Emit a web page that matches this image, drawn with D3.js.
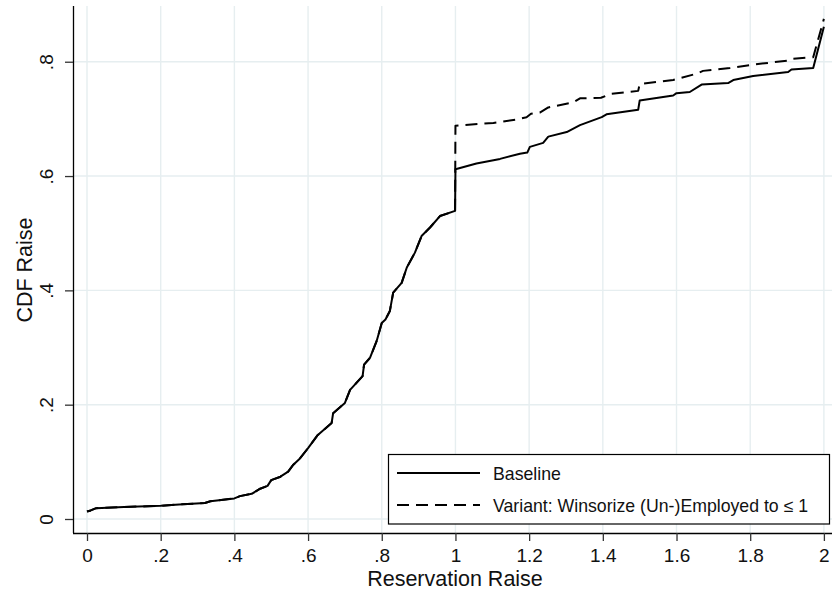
<!DOCTYPE html>
<html>
<head>
<meta charset="utf-8">
<script src="https://cdn.jsdelivr.net/npm/d3@7"></script>
<style>
  html, body { margin: 0; padding: 0; background: #fff; }
  svg { display: block; font-family: "Liberation Sans", Arial, sans-serif; }
</style>
</head>
<body>
<svg id="chart" width="833" height="592"></svg>
<script>
// ---- Data ----
const xTicks = [0, 0.2, 0.4, 0.6, 0.8, 1, 1.2, 1.4, 1.6, 1.8, 2];
const xTickLabels = ["0", ".2", ".4", ".6", ".8", "1", "1.2", "1.4", "1.6", "1.8", "2"];
const yTicks = [0, 0.2, 0.4, 0.6, 0.8];
const yTickLabels = ["0", ".2", ".4", ".6", ".8"];

const baselineX = [0, 0.01, 0.025, 0.1, 0.2, 0.25, 0.32, 0.335, 0.4, 0.415, 0.447, 0.47, 0.49, 0.5, 0.525, 0.546, 0.56, 0.578, 0.6, 0.625, 0.664, 0.668, 0.7, 0.714, 0.748, 0.752, 0.768, 0.786, 0.8, 0.81, 0.822, 0.831, 0.854, 0.868, 0.89, 0.908, 0.931, 0.958, 0.999,
  1.0, 1.057, 1.121, 1.175, 1.195, 1.202, 1.238, 1.252, 1.302, 1.338, 1.397, 1.41, 1.496, 1.5, 1.591, 1.6, 1.636, 1.668, 1.74, 1.754, 1.808, 1.903, 1.912, 1.971, 2.0];
const baselineY = [0.013, 0.015, 0.019, 0.021, 0.023, 0.0255, 0.028, 0.031, 0.036, 0.040, 0.044, 0.053, 0.058, 0.068, 0.074, 0.083, 0.095, 0.106, 0.124, 0.146, 0.168, 0.185, 0.203, 0.226, 0.25, 0.27, 0.282, 0.311, 0.343, 0.349, 0.364, 0.396, 0.413, 0.44, 0.466, 0.495, 0.51, 0.53, 0.539,
  0.612, 0.622, 0.63, 0.639, 0.641, 0.651, 0.658, 0.669, 0.677, 0.689, 0.703, 0.708, 0.716, 0.732, 0.741, 0.745, 0.747, 0.76, 0.7626, 0.768, 0.775, 0.782, 0.7865, 0.789, 0.861];

const variantX = [0, 0.01, 0.025, 0.1, 0.2, 0.25, 0.32, 0.335, 0.4, 0.415, 0.447, 0.47, 0.49, 0.5, 0.525, 0.546, 0.56, 0.578, 0.6, 0.625, 0.664, 0.668, 0.7, 0.714, 0.748, 0.752, 0.768, 0.786, 0.8, 0.81, 0.822, 0.831, 0.854, 0.868, 0.89, 0.908, 0.931, 0.958, 0.999,
  1.0, 1.103, 1.166, 1.193, 1.205, 1.229, 1.252, 1.32, 1.338, 1.395, 1.423, 1.496, 1.5, 1.591, 1.654, 1.672, 1.745, 1.808, 1.903, 1.912, 1.971, 2.0];
const variantY = [0.013, 0.015, 0.019, 0.021, 0.023, 0.0255, 0.028, 0.031, 0.036, 0.040, 0.044, 0.053, 0.058, 0.068, 0.074, 0.083, 0.095, 0.106, 0.124, 0.146, 0.168, 0.185, 0.203, 0.226, 0.25, 0.27, 0.282, 0.311, 0.343, 0.349, 0.364, 0.396, 0.413, 0.44, 0.466, 0.495, 0.51, 0.53, 0.539,
  0.688, 0.693, 0.699, 0.703, 0.709, 0.711, 0.72, 0.729, 0.736, 0.737, 0.744, 0.749, 0.761, 0.768, 0.779, 0.784, 0.789, 0.795, 0.802, 0.805, 0.808, 0.875];

const seriesNames = ["Baseline", "Variant: Winsorize (Un-)Employed to \u2264 1"];
const xTitle = "Reservation Raise";
const yTitle = "CDF Raise";

// ---- Drawing ----
const svg = d3.select("#chart");
const pLeft = 73, pRight = 832, pTop = 6, pBottom = 533;

const x = d3.scaleLinear().domain([-0.038, 2.022]).range([pLeft, pRight]);
const y = d3.scaleLinear().domain([-0.0245, 0.8975]).range([pBottom, pTop]);

const gridColor = "#e6eef0";
// grid
svg.append("g").selectAll("line").data(xTicks).join("line")
  .attr("x1", d => x(d)).attr("x2", d => x(d))
  .attr("y1", pTop).attr("y2", pBottom)
  .attr("stroke", gridColor).attr("stroke-width", 1.4);
svg.append("g").selectAll("line").data(yTicks).join("line")
  .attr("x1", pLeft).attr("x2", pRight)
  .attr("y1", d => y(d)).attr("y2", d => y(d))
  .attr("stroke", gridColor).attr("stroke-width", 1.4);

// axes
const xAxis = d3.axisBottom(x).tickValues(xTicks)
  .tickFormat((d, i) => xTickLabels[i]).tickSize(8).tickSizeOuter(0).tickPadding(4);
const gx = svg.append("g").attr("transform", `translate(0,${pBottom})`).call(xAxis);
gx.select(".domain").attr("d", `M${pLeft},0.5H${pRight}`).attr("stroke", "#000").attr("stroke-width", 1.3);
gx.selectAll(".tick line").attr("stroke", "#333").attr("stroke-width", 1.3);
gx.selectAll(".tick text").attr("font-size", 19).attr("fill", "#111")
  .attr("font-family", "Liberation Sans, Arial, sans-serif")
  .attr("dy", null).attr("y", 29);

const yAxis = d3.axisLeft(y).tickValues(yTicks)
  .tickFormat((d, i) => yTickLabels[i]).tickSize(8).tickSizeOuter(0);
const gy = svg.append("g").attr("transform", `translate(${pLeft},0)`).call(yAxis);
gy.select(".domain").attr("d", `M0.5,${pTop}V${pBottom}`).attr("stroke", "#000").attr("stroke-width", 1.3);
gy.selectAll(".tick line").attr("stroke", "#333").attr("stroke-width", 1.3);
gy.selectAll(".tick text").attr("font-size", 19).attr("fill", "#111")
  .attr("font-family", "Liberation Sans, Arial, sans-serif")
  .attr("x", null).attr("dy", null)
  .attr("text-anchor", "middle")
  .attr("transform", "translate(-20,0) rotate(-90)");

// titles
svg.append("text").attr("x", 455).attr("y", 586).attr("text-anchor", "middle")
  .attr("font-size", 21.5).attr("fill", "#111").text(xTitle);
svg.append("text").attr("transform", "translate(32,270) rotate(-90)")
  .attr("text-anchor", "middle").attr("font-size", 21.5).attr("fill", "#111").text(yTitle);

// lines
const line = d3.line().x(d => x(d[0])).y(d => y(d[1]));
const baseData = baselineX.map((v, i) => [v, baselineY[i]]);
const varData = variantX.map((v, i) => [v, variantY[i]]);

svg.append("path").datum(varData).attr("d", line)
  .attr("fill", "none").attr("stroke", "#000").attr("stroke-width", 2)
  .attr("stroke-dasharray", "12,7").attr("stroke-linejoin", "round");
svg.append("path").datum(baseData).attr("d", line)
  .attr("fill", "none").attr("stroke", "#000").attr("stroke-width", 2)
  .attr("stroke-linejoin", "round");

// legend
const lg = svg.append("g");
lg.append("rect").attr("x", 388.5).attr("y", 454.5).attr("width", 441).attr("height", 69.5)
  .attr("fill", "#fff").attr("stroke", "#000").attr("stroke-width", 1.2);
const rows = [473, 505];
lg.selectAll("line").data(seriesNames).join("line")
  .attr("x1", 397).attr("x2", 480)
  .attr("y1", (d, i) => rows[i]).attr("y2", (d, i) => rows[i])
  .attr("stroke", "#000").attr("stroke-width", 2)
  .attr("stroke-dasharray", (d, i) => i === 0 ? null : "12,7");
lg.selectAll("text").data(seriesNames).join("text")
  .attr("x", 493).attr("y", (d, i) => rows[i] + 6.5)
  .attr("font-size", 17.7).attr("fill", "#111").text(d => d);
</script>
</body>
</html>
